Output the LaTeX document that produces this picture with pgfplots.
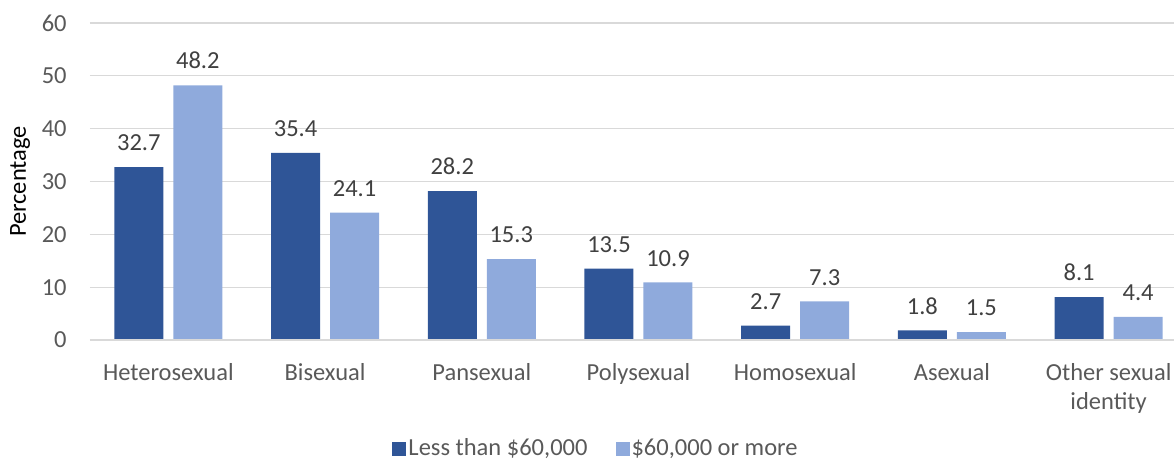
\documentclass[border=0pt]{standalone}
\usepackage{pgfplots}
\pgfplotsset{compat=1.18}
\usepackage{fontspec}
\setmainfont{Carlito}
\definecolor{darkb}{HTML}{2F5597}
\definecolor{lightb}{HTML}{8FAADC}
\definecolor{tickc}{HTML}{595959}
\definecolor{labc}{HTML}{404040}
\definecolor{gridc}{HTML}{D9D9D9}
\begin{document}
\fontsize{24.5}{30}\selectfont
\begin{tikzpicture}
\path[use as bounding box] (-90pt,-121pt) rectangle (1084pt,340pt);
\begin{axis}[
  at={(0,0)}, anchor=south west,
  scale only axis,
  width=1097pt, height=317pt,
  xmin=-0.5, xmax=6.5,
  ymin=0, ymax=60,
  ytick={0,10,...,60},
  xtick={0,1,2,3,4,5,6},
  xticklabels={Heterosexual,Bisexual,Pansexual,Polysexual,Homosexual,Asexual,{Other sexual\\identity}},
  axis line style={draw=none},
  major tick length=0pt,
  ymajorgrids,
  grid style={gridc, line width=1.3pt},
  ybar=10pt,
  bar width=49pt,
  /pgf/number format/assume math mode=true,
  tick label style={font=\fontsize{24.5}{29}\selectfont, text=tickc},
  xticklabel style={align=center, anchor=north, yshift=-15pt},
  yticklabel style={anchor=east, xshift=-15pt},
  ylabel={Percentage},
  ylabel style={font=\fontsize{24.5}{30}\selectfont, text=tickc},
  every axis y label/.style={at={(-70pt,0.5)}, rotate=90, anchor=center},
  nodes near coords,
  nodes near coords style={font=\fontsize{24.5}{30}\selectfont, text=labc, anchor=south, inner sep=0pt, yshift=16pt,
    /pgf/number format/.cd, fixed, fixed zerofill, precision=1},
  legend style={at={(0.4613,-0.344)}, anchor=center, draw=none, fill=none,
    legend columns=2, font=\fontsize{24.5}{30}\selectfont, text=tickc,
    /tikz/every even column/.append style={column sep=26pt}},
  legend image code/.code={\fill[#1] (0pt,-7pt) rectangle (14pt,7pt);},
]
\addplot[fill=darkb, draw=none] coordinates {(0,32.7) (1,35.4) (2,28.2) (3,13.5) (4,2.7) (5,1.8) (6,8.1)};
\addplot[fill=lightb, draw=none] coordinates {(0,48.2) (1,24.1) (2,15.3) (3,10.9) (4,7.3) (5,1.5) (6,4.4)};
\legend{{Less than \$60,000}, {\$60,000 or more}}
\draw[gridc, line width=1.3pt] (rel axis cs:0,0) -- (rel axis cs:1,0);
\end{axis}
\end{tikzpicture}
\end{document}
